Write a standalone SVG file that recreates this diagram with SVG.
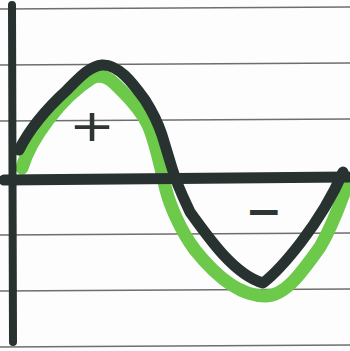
<svg xmlns="http://www.w3.org/2000/svg" width="350" height="351" viewBox="0 0 350 351">
<style>
.rule{stroke:#6e6e6e;stroke-width:1.6;fill:none}
.marker{fill:none;stroke-linecap:round;stroke-linejoin:round}
.green{stroke:#6cc94a;stroke-width:13}
.black{stroke:#283230;stroke-width:11}
.axis{stroke:#283230;stroke-linecap:round;fill:none}
.sign{font-family:"DejaVu Sans",sans-serif;fill:#2f3533}
</style>
<rect width="350" height="351" fill="#fdfdfd"/>
<g id="paper-lines">
<line class="rule" x1="0" y1="9" x2="350" y2="7"/>
<line class="rule" x1="0" y1="65" x2="350" y2="63"/>
<line class="rule" x1="0" y1="121" x2="350" y2="119"/>
<line class="rule" x1="0" y1="178" x2="350" y2="176"/>
<line class="rule" x1="0" y1="235" x2="350" y2="233"/>
<line class="rule" x1="0" y1="291" x2="350" y2="289"/>
<line class="rule" x1="0" y1="347" x2="350" y2="345"/>
</g>
<g id="green-curve">
<path class="marker green" d="M22,168 C30,140 60,98 92,78 C100,74 108,77 115,84 C125,94 140,108 148,125 C155,140 160,165 166,190 C170,205 180,230 195,250 C215,275 240,296 265,296 C285,296 300,275 320,247 C330,230 340,205 348,182"/>
</g>
<g id="black-curve">
<path class="marker black" d="M19,150 C28,132 45,110 67,90 C80,77 90,66 102,65 C118,64 132,82 145,100 C152,111 157,120 162,135 L172,168 C177,185 183,197 190,212 C210,240 235,275 263,283 C280,270 320,225 343,172"/>
</g>
<g id="axes">
<line class="axis" x1="12" y1="5" x2="13" y2="342" stroke-width="8"/>
<line class="axis" x1="4" y1="180" x2="348" y2="177" stroke-width="11"/>
</g>
<g id="signs">
<text class="sign" x="92" y="141" font-size="44" text-anchor="middle" transform="translate(92,0) scale(1.25,1) translate(-92,0)">+</text>
<text class="sign" x="264" y="226" font-size="44" font-weight="bold" text-anchor="middle">−</text>
</g>
</svg>
